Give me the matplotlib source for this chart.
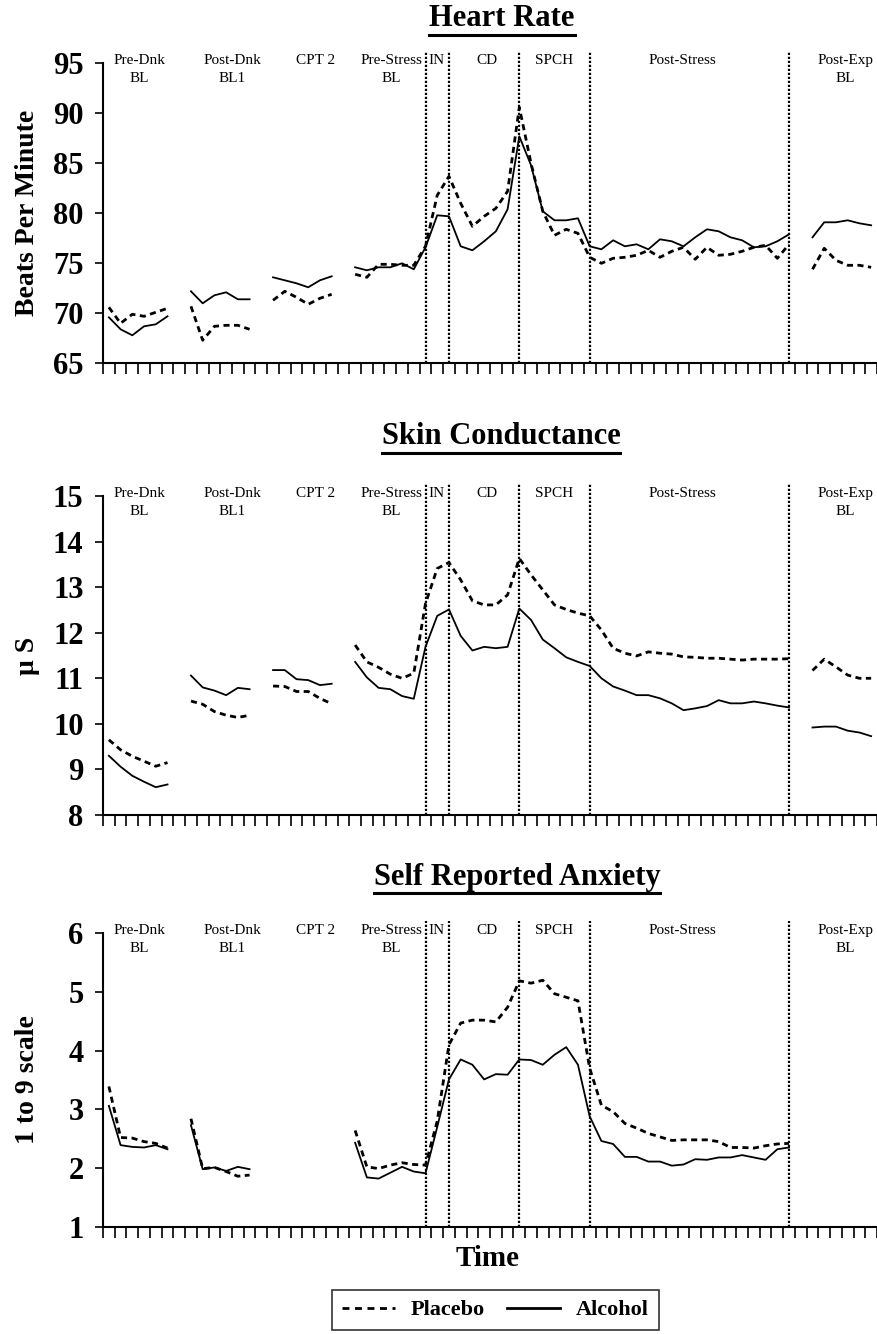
import numpy as np
import matplotlib
matplotlib.use("Agg")
import matplotlib.pyplot as plt
from matplotlib.lines import Line2D

plt.rcParams['font.family'] = ['Liberation Serif', 'DejaVu Serif']

nan = np.nan
n_cat = 66
phase_labels = ["Pre-Dnk\nBL", "Post-Dnk\nBL1", "CPT 2", "Pre-Stress\nBL", "IN", "CD",
                "SPCH", "Post-Stress", "Post-Exp\nBL"]
phase_label_pos = [2.6, 10.5, 17.6, 24.1, 27.9, 32.2, 38.0, 48.9, 62.8]
phase_lines = [27, 29, 35, 41, 58]

hr_alcohol = ([69.6, 68.4, 67.8, 68.7, 68.9, 69.7, nan,
               72.2, 71.0, 71.8, 72.1, 71.4, 71.4, nan,
               73.6, 73.3, 73.0, 72.6, 73.3, 73.7, nan,
               74.6, 74.3, 74.6, 74.6, 75.0, 74.4, 76.6,
               79.8, 79.7,
               76.7, 76.3, 77.2, 78.2, 80.4, 87.7,
               84.8, 80.2, 79.3, 79.3, 79.5,
               76.7, 76.4, 77.3, 76.7, 76.9, 76.4, 77.4, 77.2, 76.7, 77.6, 78.4, 78.2,
               77.6, 77.3, 76.6, 76.7, 77.2, 77.9, nan,
               77.6, 79.1, 79.1, 79.3, 79.0, 78.8])
hr_placebo = ([70.6, 69.0, 69.9, 69.7, 70.1, 70.5, nan,
               70.7, 67.3, 68.7, 68.8, 68.8, 68.4, nan,
               71.3, 72.2, 71.6, 70.9, 71.5, 71.9, nan,
               73.9, 73.6, 74.9, 74.9, 74.8, 74.8, 76.7,
               81.8, 83.7,
               81.0, 78.7, 79.7, 80.5, 82.2, 90.6,
               85.0, 80.2, 77.8, 78.4, 78.0,
               75.6, 75.0, 75.5, 75.6, 75.8, 76.3, 75.6, 76.2, 76.6, 75.4, 76.6, 75.8,
               75.9, 76.2, 76.6, 76.8, 75.5, 76.9, nan,
               74.4, 76.5, 75.3, 74.8, 74.8, 74.6])

sc_alcohol = ([9.30, 9.06, 8.86, 8.73, 8.61, 8.67, nan,
               11.06, 10.80, 10.73, 10.63, 10.79, 10.76, nan,
               11.18, 11.18, 10.98, 10.96, 10.85, 10.88, nan,
               11.36, 11.02, 10.79, 10.76, 10.61, 10.55, 11.69,
               12.37, 12.51,
               11.93, 11.61, 11.69, 11.66, 11.69, 12.53,
               12.28, 11.85, 11.66, 11.46, 11.36,
               11.27, 11.00, 10.82, 10.73, 10.63, 10.63, 10.56, 10.45, 10.30, 10.34,
               10.39, 10.52, 10.45, 10.45, 10.49, 10.45, 10.40, 10.36, nan,
               9.92, 9.94, 9.94, 9.85, 9.81, 9.73])
sc_placebo = ([9.65, 9.43, 9.29, 9.18, 9.07, 9.15, nan,
               10.50, 10.43, 10.27, 10.19, 10.14, 10.19, nan,
               10.83, 10.82, 10.71, 10.71, 10.56, 10.44, nan,
               11.73, 11.36, 11.24, 11.09, 11.00, 11.11, 12.64,
               13.41, 13.54,
               13.16, 12.70, 12.61, 12.61, 12.83, 13.63,
               13.27, 12.94, 12.61, 12.51, 12.43,
               12.37, 12.06, 11.66, 11.55, 11.49, 11.58, 11.55, 11.53, 11.47, 11.46,
               11.44, 11.44, 11.42, 11.40, 11.42, 11.42, 11.42, 11.43, nan,
               11.17, 11.42, 11.25, 11.07, 11.00, 11.00])

anx_alcohol = ([3.06, 2.39, 2.36, 2.35, 2.39, 2.32, nan,
                2.73, 1.98, 2.01, 1.95, 2.02, 1.98, nan,
                nan, nan, nan, nan, nan, nan, nan,
                2.43, 1.84, 1.82, 1.92, 2.02, 1.94, 1.91,
                2.70, 3.51,
                3.85, 3.76, 3.51, 3.60, 3.59, 3.85,
                3.84, 3.76, 3.93, 4.06, 3.76,
                2.88, 2.46, 2.41, 2.19, 2.19, 2.11, 2.11, 2.04, 2.06, 2.15, 2.14, 2.18,
                2.18, 2.22, 2.18, 2.14, 2.32, 2.35, nan,
                nan, nan, nan, nan, nan, nan])
anx_placebo = ([3.39, 2.52, 2.51, 2.45, 2.42, 2.34, nan,
                2.84, 1.99, 2.01, 1.94, 1.86, 1.88, nan,
                nan, nan, nan, nan, nan, nan, nan,
                2.64, 2.02, 1.99, 2.05, 2.09, 2.06, 2.05,
                2.80, 4.10,
                4.47, 4.52, 4.52, 4.49, 4.74, 5.19,
                5.15, 5.20, 4.97, 4.91, 4.85,
                3.70, 3.07, 2.96, 2.76, 2.68, 2.59, 2.53, 2.47, 2.48, 2.48, 2.48, 2.45,
                2.35, 2.35, 2.34, 2.38, 2.41, 2.42, nan,
                nan, nan, nan, nan, nan, nan])

panels = [
    dict(title="Heart Rate", ylabel="Beats Per Minute", alc=hr_alcohol, pla=hr_placebo,
         ylim=(65, 95), yticks=np.arange(65, 96, 5), rect_px=(63.3, 363.3)),
    dict(title="Skin Conductance", ylabel="μ S", alc=sc_alcohol, pla=sc_placebo,
         ylim=(8, 15), yticks=np.arange(8, 16, 1), rect_px=(496, 815)),
    dict(title="Self Reported Anxiety", ylabel="1 to 9 scale", alc=anx_alcohol, pla=anx_placebo,
         ylim=(1, 6), yticks=np.arange(1, 7, 1), rect_px=(933.3, 1226.7)),
]
title_pos_px = [(502, 19), (501, 437), (517, 877)]

W, H = 878, 1334
fig = plt.figure(figsize=(W / 100, H / 100), dpi=100)
x = np.arange(n_cat)
left_px, right_px = 103, 877

dash_style = (0, (2.2, 1.6))
for p, (tx, ty) in zip(panels, title_pos_px):
    top, bot = p["rect_px"]
    ax = fig.add_axes([left_px / W, 1 - bot / H, (right_px - left_px) / W, (bot - top) / H])
    ax.plot(x, p["pla"], color="black", lw=2.0, linestyle=dash_style)
    ax.plot(x, p["alc"], color="black", lw=1.3, linestyle="-")
    ax.set_xlim(-0.5, n_cat - 0.5)
    ax.set_ylim(*p["ylim"])
    ax.set_yticks(p["yticks"])
    ax.set_yticklabels([str(v) for v in p["yticks"]], fontsize=22, fontweight="bold")
    ax.set_xticks(np.arange(-0.5, n_cat, 1.0))
    ax.set_xticklabels([])
    ax.tick_params(axis="x", direction="out", length=8, width=1.2)
    ax.tick_params(axis="y", direction="out", length=6, width=1.2, pad=8)
    for s in ["top", "right"]:
        ax.spines[s].set_visible(False)
    for s in ["left", "bottom"]:
        ax.spines[s].set_linewidth(1.5)
    ext = 12 / (bot - top)
    for xv in phase_lines:
        ax.axvline(xv, ymin=0, ymax=1 + ext, color="black", lw=1.6, linestyle=(0, (1, 0.8)),
                   clip_on=False)
    for lab, xp in zip(phase_labels, phase_label_pos):
        ax.text(xp, 1 + 9 / (bot - top), lab, transform=ax.get_xaxis_transform(),
                ha="center", va="top", fontsize=11, linespacing=1.5)
    ax.set_ylabel(p["ylabel"], fontsize=20, fontweight="bold")
    ax.yaxis.set_label_coords(-(103 - 40) / (right_px - left_px), 0.5)
    t = fig.text(tx / W, 1 - ty / H, p["title"], ha="center", va="center",
                 fontsize=22, fontweight="bold")
    p["title_artist"] = t

fig.text(488 / W, 1 - 1258 / H, "Time", ha="center", va="center", fontsize=21, fontweight="bold")

handles = [Line2D([], [], color="black", lw=2.0, linestyle=(0, (2.5, 2.0))),
           Line2D([], [], color="black", lw=2.0, linestyle="-")]
leg = fig.legend(handles, ["Placebo", "Alcohol"], loc="center", ncol=2,
                 bbox_to_anchor=(495 / W, 1 - 1310 / H), frameon=True, fancybox=False,
                 prop=dict(size=16, weight="bold"), handlelength=2.4, columnspacing=1.0,
                 borderpad=0.45, handletextpad=0.7, borderaxespad=0.0)
leg.get_frame().set_edgecolor("black")
leg.get_frame().set_linewidth(1.2)

fig.canvas.draw()
renderer = fig.canvas.get_renderer()
for p in panels:
    bb = p["title_artist"].get_window_extent(renderer)
    y0 = bb.y0 - 1
    fig.add_artist(Line2D([bb.x0 / W, bb.x1 / W], [y0 / H, y0 / H], color="black", lw=2.2,
                          transform=fig.transFigure))

fig.savefig("out.png", dpi=100)
